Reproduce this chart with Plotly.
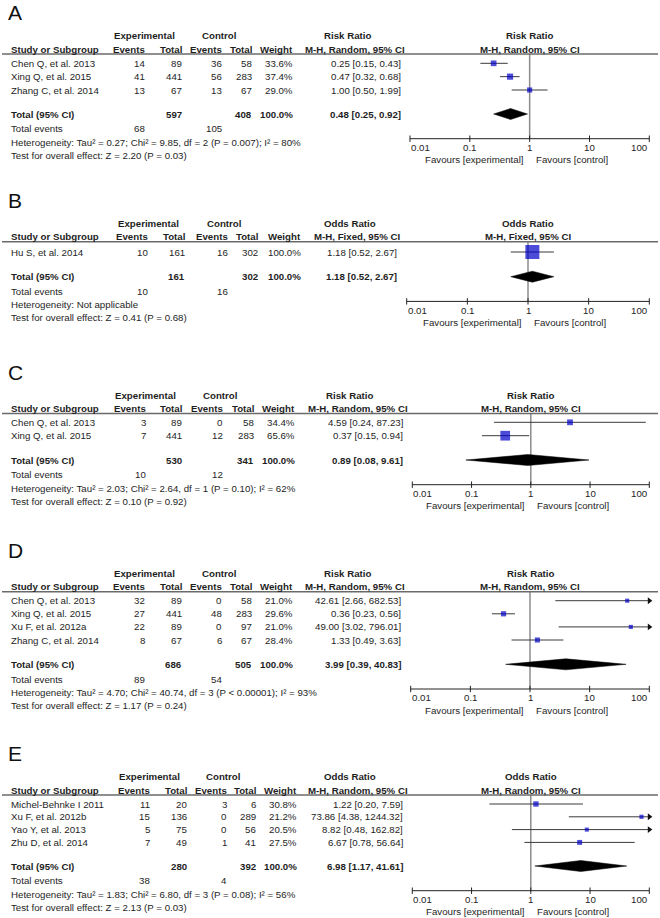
import math
import plotly.graph_objects as go

W, H = 660, 918
FONT = "Liberation Sans, Arial, Helvetica, sans-serif"
FS = 9.7
TXT = "#1e1e1e"
BLUE = "#0000c8"

tick_vals = [0.01, 0.1, 1, 10, 100]
tick_labels = ["0.01", "0.1", "1", "10", "100"]

# ---------------- Panel A ----------------
A_studies = ["Chen Q, et al. 2013", "Xing Q, et al. 2015", "Zhang C, et al. 2014"]
A_exp_events = [14, 41, 13]
A_exp_total = [89, 441, 67]
A_ctl_events = [36, 56, 13]
A_ctl_total = [58, 283, 67]
A_weight = [33.6, 37.4, 29.0]
A_est = [0.25, 0.47, 1.00]
A_lo = [0.15, 0.32, 0.50]
A_hi = [0.43, 0.68, 1.99]
A_totals = [597, 408]
A_total_events = [68, 105]
A_overall = [0.48, 0.25, 0.92]
A_het = "Heterogeneity: Tau² = 0.27; Chi² = 9.85, df = 2 (P = 0.007); I² = 80%"
A_test = "Test for overall effect: Z = 2.20 (P = 0.03)"

# ---------------- Panel B ----------------
B_studies = ["Hu S, et al. 2014"]
B_exp_events = [10]
B_exp_total = [161]
B_ctl_events = [16]
B_ctl_total = [302]
B_weight = [100.0]
B_est = [1.18]
B_lo = [0.52]
B_hi = [2.67]
B_totals = [161, 302]
B_total_events = [10, 16]
B_overall = [1.18, 0.52, 2.67]
B_het = "Heterogeneity: Not applicable"
B_test = "Test for overall effect: Z = 0.41 (P = 0.68)"

# ---------------- Panel C ----------------
C_studies = ["Chen Q, et al. 2013", "Xing Q, et al. 2015"]
C_exp_events = [3, 7]
C_exp_total = [89, 441]
C_ctl_events = [0, 12]
C_ctl_total = [58, 283]
C_weight = [34.4, 65.6]
C_est = [4.59, 0.37]
C_lo = [0.24, 0.15]
C_hi = [87.23, 0.94]
C_totals = [530, 341]
C_total_events = [10, 12]
C_overall = [0.89, 0.08, 9.61]
C_het = "Heterogeneity: Tau² = 2.03; Chi² = 2.64, df = 1 (P = 0.10); I² = 62%"
C_test = "Test for overall effect: Z = 0.10 (P = 0.92)"

# ---------------- Panel D ----------------
D_studies = ["Chen Q, et al. 2013", "Xing Q, et al. 2015", "Xu F, et al. 2012a", "Zhang C, et al. 2014"]
D_exp_events = [32, 27, 22, 8]
D_exp_total = [89, 441, 89, 67]
D_ctl_events = [0, 48, 0, 6]
D_ctl_total = [58, 283, 97, 67]
D_weight = [21.0, 29.6, 21.0, 28.4]
D_est = [42.61, 0.36, 49.00, 1.33]
D_lo = [2.66, 0.23, 3.02, 0.49]
D_hi = [682.53, 0.56, 796.01, 3.63]
D_totals = [686, 505]
D_total_events = [89, 54]
D_overall = [3.99, 0.39, 40.83]
D_het = "Heterogeneity: Tau² = 4.70; Chi² = 40.74, df = 3 (P < 0.00001); I² = 93%"
D_test = "Test for overall effect: Z = 1.17 (P = 0.24)"

# ---------------- Panel E ----------------
E_studies = ["Michel-Behnke I 2011", "Xu F, et al. 2012b", "Yao Y, et al. 2013", "Zhu D, et al. 2014"]
E_exp_events = [11, 15, 5, 7]
E_exp_total = [20, 136, 75, 49]
E_ctl_events = [3, 0, 0, 1]
E_ctl_total = [6, 289, 56, 41]
E_weight = [30.8, 21.2, 20.5, 27.5]
E_est = [1.22, 73.86, 8.82, 6.67]
E_lo = [0.20, 4.38, 0.48, 0.78]
E_hi = [7.59, 1244.32, 162.82, 56.64]
E_totals = [280, 392]
E_total_events = [38, 4]
E_overall = [6.98, 1.17, 41.61]
E_het = "Heterogeneity: Tau² = 1.83; Chi² = 6.80, df = 3 (P = 0.08); I² = 56%"
E_test = "Test for overall effect: Z = 2.13 (P = 0.03)"

panels = [
    dict(letter="A", measure="Risk Ratio", method="M-H, Random, 95% CI",
         studies=A_studies, ee=A_exp_events, et=A_exp_total, ce=A_ctl_events, ct=A_ctl_total,
         w=A_weight, est=A_est, lo=A_lo, hi=A_hi, totals=A_totals, tev=A_total_events,
         overall=A_overall, het=A_het, test=A_test),
    dict(letter="B", measure="Odds Ratio", method="M-H, Fixed, 95% CI",
         studies=B_studies, ee=B_exp_events, et=B_exp_total, ce=B_ctl_events, ct=B_ctl_total,
         w=B_weight, est=B_est, lo=B_lo, hi=B_hi, totals=B_totals, tev=B_total_events,
         overall=B_overall, het=B_het, test=B_test),
    dict(letter="C", measure="Risk Ratio", method="M-H, Random, 95% CI",
         studies=C_studies, ee=C_exp_events, et=C_exp_total, ce=C_ctl_events, ct=C_ctl_total,
         w=C_weight, est=C_est, lo=C_lo, hi=C_hi, totals=C_totals, tev=C_total_events,
         overall=C_overall, het=C_het, test=C_test),
    dict(letter="D", measure="Risk Ratio", method="M-H, Random, 95% CI",
         studies=D_studies, ee=D_exp_events, et=D_exp_total, ce=D_ctl_events, ct=D_ctl_total,
         w=D_weight, est=D_est, lo=D_lo, hi=D_hi, totals=D_totals, tev=D_total_events,
         overall=D_overall, het=D_het, test=D_test),
    dict(letter="E", measure="Odds Ratio", method="M-H, Random, 95% CI",
         studies=E_studies, ee=E_exp_events, et=E_exp_total, ce=E_ctl_events, ct=E_ctl_total,
         w=E_weight, est=E_est, lo=E_lo, hi=E_hi, totals=E_totals, tev=E_total_events,
         overall=E_overall, het=E_het, test=E_test),
]

# layout positions (pixels) per panel
positions = [
    dict(hdr1=35.7, row0=63.3, row_h=13.35, total=114.0,
         exp_c=144.7, ctl_c=218.8, ev1=146, tot1=183, ev2=223, tot2=253, wt=294,
         rh_r=372, mh_r=406, val_r=402, L=410.0, R=649.3),
    dict(hdr1=223.3, row0=252.0, row_h=13.35, total=276.7,
         exp_c=148.0, ctl_c=224.0, ev1=149, tot1=186, ev2=229.3, tot2=259.3, wt=301.7,
         rh_r=376.7, mh_r=401, val_r=397.7, L=406.7, R=649.3),
    dict(hdr1=395.0, row0=422.3, row_h=13.4, total=460.0,
         exp_c=145.3, ctl_c=220.3, ev1=146.7, tot1=183.3, ev2=224, tot2=255.3, wt=296,
         rh_r=374, mh_r=409, val_r=404, L=412.3, R=649.3),
    dict(hdr1=573.3, row0=600.7, row_h=13.1, total=664.3,
         exp_c=144.7, ctl_c=218.8, ev1=145.7, tot1=182.7, ev2=222.7, tot2=253.3, wt=294,
         rh_r=371.7, mh_r=406, val_r=401.7, L=410.7, R=649.3),
    dict(hdr1=776.7, row0=804.0, row_h=12.8, total=866.0,
         exp_c=149.3, ctl_c=223.0, ev1=150.7, tot1=188.3, ev2=228.3, tot2=257.3, wt=297.7,
         rh_r=376.7, mh_r=409, val_r=404, L=412.3, R=649.3),
]

fig = go.Figure()
annotations = []
shapes = []


def txt(x, y, s, anchor="left", bold=False, size=FS, xref="x", color=TXT, xshift=0):
    annotations.append(dict(
        x=x, y=y, xref=xref, yref="y", text=(f"<b>{s}</b>" if bold else s),
        showarrow=False, xanchor=anchor, yanchor="middle", xshift=xshift,
        borderpad=0, font=dict(family=FONT, size=size, color=color)))


def fmt_eff(e, l, h):
    return f"{e:.2f} [{l:.2f}, {h:.2f}]"


EPS = 0.03
layout_axes = {}

for i, (pn, p) in enumerate(zip(panels, positions)):
    ax_id = f"x{i + 2}"
    ax_name = f"xaxis{i + 2}"
    ppu = (p["R"] - p["L"]) / 4.0
    layout_axes[ax_name] = dict(
        type="log", range=[-2 - EPS, 2 + EPS],
        domain=[(p["L"] - EPS * ppu) / W, (p["R"] + EPS * ppu) / W],
        anchor="y", visible=False, fixedrange=True)

    hdr1 = p["hdr1"]
    hdr2 = hdr1 + 13.4
    line_y = hdr1 + 18.4
    rows_y = [p["row0"] + k * p["row_h"] for k in range(len(pn["studies"]))]
    total_y = p["total"]
    tev_y = total_y + 14.7
    het_y = tev_y + 13.3
    test_y = het_y + 13.2
    axis_y = tev_y + 10.0
    tick_y = axis_y + 8.7
    fav_y = axis_y + 21.0

    # panel letter
    txt(7, hdr1 - 23, pn["letter"], size=21, color="#111")

    # headers
    txt(p["exp_c"], hdr1, "Experimental", anchor="center", bold=True)
    txt(p["ctl_c"], hdr1, "Control", anchor="center", bold=True)
    txt(p["rh_r"], hdr1, pn["measure"], anchor="right", bold=True)
    txt(0, hdr1, pn["measure"], anchor="center", bold=True, xref=ax_id)

    txt(10, hdr2, "Study or Subgroup", bold=True)
    txt(p["ev1"], hdr2, "Events", anchor="right", bold=True)
    txt(p["tot1"], hdr2, "Total", anchor="right", bold=True)
    txt(p["ev2"], hdr2, "Events", anchor="right", bold=True)
    txt(p["tot2"], hdr2, "Total", anchor="right", bold=True)
    txt(p["wt"], hdr2, "Weight", anchor="right", bold=True)
    txt(p["mh_r"], hdr2, pn["method"], anchor="right", bold=True)
    txt(0, hdr2, pn["method"], anchor="center", bold=True, xref=ax_id)

    shapes.append(dict(type="line", xref="x", yref="y", x0=2, x1=658, y0=line_y, y1=line_y,
                       line=dict(color="#6a6a6a", width=1.5)))

    # study rows
    for k, y in enumerate(rows_y):
        txt(10, y, pn["studies"][k])
        txt(p["ev1"], y, str(pn["ee"][k]), anchor="right")
        txt(p["tot1"], y, str(pn["et"][k]), anchor="right")
        txt(p["ev2"], y, str(pn["ce"][k]), anchor="right")
        txt(p["tot2"], y, str(pn["ct"][k]), anchor="right")
        txt(p["wt"], y, f"{pn['w'][k]:.1f}%", anchor="right")
        txt(p["val_r"], y, fmt_eff(pn["est"][k], pn["lo"][k], pn["hi"][k]), anchor="right")

    # total row
    txt(10, total_y, "Total (95% CI)", bold=True)
    txt(p["tot1"], total_y, str(pn["totals"][0]), anchor="right", bold=True)
    txt(p["tot2"], total_y, str(pn["totals"][1]), anchor="right", bold=True)
    txt(p["wt"], total_y, "100.0%", anchor="right", bold=True)
    txt(p["val_r"], total_y, fmt_eff(*pn["overall"]), anchor="right", bold=True)

    txt(10, tev_y, "Total events")
    txt(p["ev1"], tev_y, str(pn["tev"][0]), anchor="right")
    txt(p["ev2"], tev_y, str(pn["tev"][1]), anchor="right")
    txt(10, het_y, pn["het"])
    txt(10, test_y, pn["test"])

    # ---- forest plot ----
    # line of no effect
    fig.add_trace(go.Scatter(x=[1, 1], y=[line_y, axis_y], mode="lines", xaxis=ax_id, yaxis="y",
                             line=dict(color="#8c8c8c", width=1.5), hoverinfo="skip", showlegend=False))
    # CI lines
    cx, cy = [], []
    for k, y in enumerate(rows_y):
        cx += [max(pn["lo"][k], 0.01), min(pn["hi"][k], 100), None]
        cy += [y, y, None]
    fig.add_trace(go.Scatter(x=cx, y=cy, mode="lines", xaxis=ax_id, yaxis="y",
                             line=dict(color="#3a3a3a", width=1), hoverinfo="skip", showlegend=False))
    # arrows for CIs beyond the axis
    arr_x = [100 for k in range(len(rows_y)) if pn["hi"][k] > 100]
    arr_y = [rows_y[k] for k in range(len(rows_y)) if pn["hi"][k] > 100]
    if arr_x:
        fig.add_trace(go.Scatter(x=arr_x, y=arr_y, mode="markers", xaxis=ax_id, yaxis="y",
                                 cliponaxis=False,
                                 marker=dict(symbol="triangle-right", size=6, color="#111",
                                             line=dict(width=0)),
                                 hoverinfo="skip", showlegend=False))
    # squares
    fig.add_trace(go.Scatter(x=pn["est"], y=rows_y, mode="markers", xaxis=ax_id, yaxis="y",
                             cliponaxis=False,
                             marker=dict(symbol="square", color=BLUE,
                                         size=[1.5 + 12.5 * w / 100.0 for w in pn["w"]],
                                         line=dict(width=0)),
                             hoverinfo="skip", showlegend=False))
    # diamond
    oe, ol, oh = pn["overall"]
    fig.add_trace(go.Scatter(x=[ol, oe, oh, oe, ol], y=[total_y, total_y - 5.5, total_y, total_y + 5.5, total_y],
                             mode="lines", fill="toself", fillcolor="#000000", xaxis=ax_id, yaxis="y",
                             line=dict(color="#000000", width=0.5), hoverinfo="skip", showlegend=False))
    # axis line and ticks
    tx, ty = [], []
    for v in tick_vals:
        tx += [v, v, None]
        ty += [axis_y - 3.2, axis_y + 3.2, None]
    fig.add_trace(go.Scatter(x=[tick_vals[0], tick_vals[-1]], y=[axis_y, axis_y], mode="lines",
                             xaxis=ax_id, yaxis="y", line=dict(color="#222", width=1),
                             hoverinfo="skip", showlegend=False))
    fig.add_trace(go.Scatter(x=tx, y=ty, mode="lines", xaxis=ax_id, yaxis="y", cliponaxis=False,
                             line=dict(color="#222", width=1), hoverinfo="skip", showlegend=False))
    for j, (v, lab) in enumerate(zip(tick_vals, tick_labels)):
        anc = "left" if j == 0 else ("right" if j == len(tick_vals) - 1 else "center")
        txt(math.log10(v), tick_y, lab, anchor=anc, xref=ax_id)
    txt(0, fav_y, "Favours [experimental]", anchor="right", xref=ax_id, xshift=-5)
    txt(0, fav_y, "Favours [control]", anchor="left", xref=ax_id, xshift=5)

fig.update_layout(
    width=W, height=H, margin=dict(l=0, r=0, t=0, b=0),
    paper_bgcolor="white", plot_bgcolor="rgba(0,0,0,0)", showlegend=False,
    xaxis=dict(range=[0, W], domain=[0, 1], visible=False, fixedrange=True),
    yaxis=dict(range=[H, 0], domain=[0, 1], visible=False, fixedrange=True),
    annotations=annotations, shapes=shapes, hovermode=False,
    **layout_axes,
)
# dummy trace so the pixel axis pair exists
fig.add_trace(go.Scatter(x=[0], y=[0], mode="markers", marker=dict(opacity=0), xaxis="x", yaxis="y",
                         hoverinfo="skip", showlegend=False))

fig.write_html("out.html", config=dict(displayModeBar=False),
               post_script="document.body.style.margin='0';document.body.style.padding='0';")
